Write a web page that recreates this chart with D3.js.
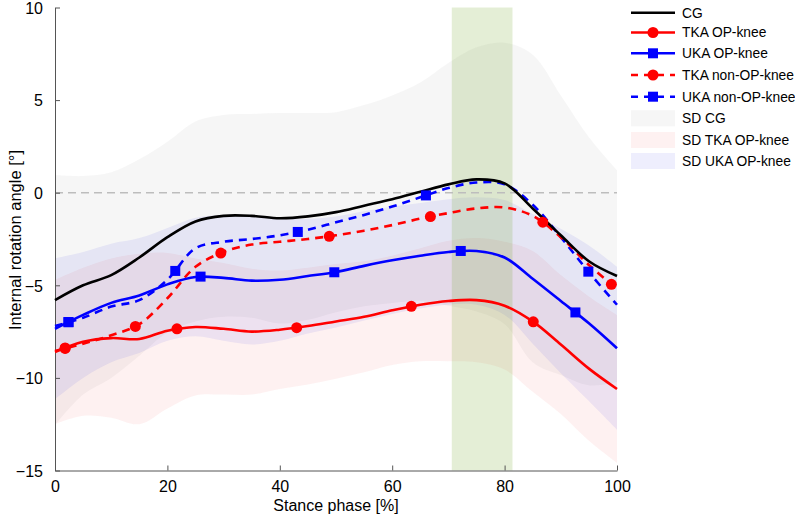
<!DOCTYPE html>
<html>
<head>
<meta charset="utf-8">
<script src="https://cdn.jsdelivr.net/npm/d3@7"></script>
<style>
  html, body { margin: 0; padding: 0; background: #fff; }
  svg { display: block; font-family: "Liberation Sans", Arial, sans-serif; }
</style>
</head>
<body>
<svg id="chart" width="795" height="518"></svg>
<script>
// ---- data ----
const stance = [0,5,10,15,20,25,30,35,40,45,50,55,60,65,70,75,80,85,90,95,100];

const cgMean      = [-5.8,-5.0,-4.45,-3.5,-2.4,-1.55,-1.25,-1.25,-1.38,-1.28,-1.05,-0.7,-0.35,0.05,0.45,0.72,0.5,-0.85,-2.3,-3.7,-4.5];
const tkaOpMean   = [-8.6,-8.05,-7.85,-7.9,-7.45,-7.25,-7.35,-7.5,-7.4,-7.2,-6.95,-6.7,-6.35,-6.05,-5.85,-5.8,-6.1,-6.95,-8.2,-9.5,-10.6];
const ukaOpMean   = [-7.35,-6.6,-5.95,-5.55,-4.95,-4.55,-4.6,-4.75,-4.7,-4.5,-4.28,-3.95,-3.65,-3.4,-3.2,-3.15,-3.5,-4.65,-5.85,-7.05,-8.4];
const tkaNonMean  = [-8.55,-8.15,-7.7,-7.1,-5.7,-4.0,-3.2,-2.8,-2.65,-2.5,-2.3,-2.05,-1.75,-1.4,-1.1,-0.85,-0.8,-1.25,-2.4,-3.9,-5.2];
const ukaNonMean  = [-7.2,-6.75,-6.15,-5.8,-4.7,-3.0,-2.65,-2.5,-2.3,-2.0,-1.6,-1.2,-0.75,-0.25,0.25,0.55,0.45,-0.65,-2.4,-4.3,-6.05];

const cgSD    = [6.75,5.9,5.55,5.3,5.15,5.4,5.45,5.5,5.68,5.58,5.4,5.43,5.6,5.9,6.55,7.13,7.6,8.3,7.55,6.7,5.72];
const tkaOpSD = [3.9,4.0,4.3,4.6,4.2,3.7,3.55,3.4,3.2,3.15,3.1,3.0,2.95,3.05,3.25,3.35,3.45,3.8,3.75,3.9,4.0];
const ukaOpSD = [3.8,3.4,3.2,3.1,3.05,3.2,3.4,3.45,3.3,3.1,3.0,2.95,2.9,2.85,2.85,2.9,3.1,3.5,3.9,4.2,4.4];

const tkaOpMarks  = [1.8, 21.7, 43, 63.4, 85.1];
const ukaOpMarks  = [2.4, 25.9, 49.7, 72.2, 92.6];
const tkaNonMarks = [1.8, 14.3, 29.5, 48.8, 66.8, 86.8, 99];
const ukaNonMarks = [2.4, 21.4, 43.2, 66, 94.9];

const phaseWindow = [70.6, 81.4];
const xTicks = [0,20,40,60,80,100];
const yTicks = [-15,-10,-5,0,5,10];

const legendLabels = ["CG","TKA OP-knee","UKA OP-knee","TKA non-OP-knee","UKA non-OP-knee","SD CG","SD TKA OP-knee","SD UKA OP-knee"];

// ---- layout ----
const svg = d3.select("#chart");
const x = d3.scaleLinear().domain([0,100]).range([55,617]);
const y = d3.scaleLinear().domain([-15,10]).range([470.5,7.5]);
const curve = d3.curveCatmullRom.alpha(0.5);

const RED = "#ff0000", BLUE = "#0000ff";
const GRAY_FILL = "rgba(150,150,150,0.09)";
const PINK_FILL = "rgba(240,60,60,0.07)";
const LAV_FILL  = "rgba(60,60,230,0.085)";

function band(mean, sd, fill) {
  const area = d3.area().curve(curve)
    .x((d,i)=>x(stance[i]))
    .y0((d,i)=>y(mean[i]-sd[i]))
    .y1((d,i)=>y(mean[i]+sd[i]));
  svg.append("path").attr("d", area(mean)).attr("fill", fill).attr("stroke","none");
}
band(cgMean, cgSD, GRAY_FILL);
band(tkaOpMean, tkaOpSD, PINK_FILL);
band(ukaOpMean, ukaOpSD, LAV_FILL);

// phase window
svg.append("rect")
  .attr("x", x(phaseWindow[0])).attr("y", y(10))
  .attr("width", x(phaseWindow[1]) - x(phaseWindow[0]))
  .attr("height", y(-15) - y(10))
  .attr("fill", "rgba(119,172,48,0.2)");

// zero line
svg.append("line")
  .attr("x1", x(0)).attr("x2", x(100)).attr("y1", y(0)).attr("y2", y(0))
  .attr("stroke", "#bdbdbd").attr("stroke-width", 1.5).attr("stroke-dasharray", "8,5");

// axes
const xAxis = d3.axisBottom(x).tickValues(xTicks).tickSizeInner(-5).tickSizeOuter(0).tickPadding(9);
const yAxis = d3.axisLeft(y).tickValues(yTicks).tickSizeInner(-5).tickSizeOuter(0).tickPadding(12);
const gx = svg.append("g").attr("transform", `translate(0,${y(-15)})`).call(xAxis);
const gy = svg.append("g").attr("transform", `translate(${x(0)},0)`).call(yAxis);
[gx, gy].forEach(g => {
  g.select(".domain").attr("stroke", "#555").attr("stroke-width", 1);
  g.selectAll(".tick line").attr("stroke", "#555");
  g.selectAll(".tick text").attr("fill", "#000").style("font-size", "16px")
   .style("font-family", "'Liberation Sans', Arial, sans-serif");
});
gx.selectAll(".tick text").attr("dy", "0.8em");
gy.selectAll(".tick text").attr("dy", "0.36em");

svg.append("text").attr("x", 336).attr("y", 511).attr("text-anchor", "middle")
  .style("font-size", "16px").text("Stance phase [%]");
svg.append("text").attr("transform", "translate(20.5,240) rotate(-90)").attr("text-anchor", "middle")
  .style("font-size", "16.5px").text("Internal rotation angle [°]");

// lines
function line(mean, color, dashed) {
  const gen = d3.line().curve(curve).x((d,i)=>x(stance[i])).y(d=>y(d));
  return svg.append("path").attr("d", gen(mean)).attr("fill","none")
    .attr("stroke", color).attr("stroke-width", 2.6)
    .attr("stroke-dasharray", dashed ? "8,6" : null);
}
function pointAtX(path, xv) {
  const node = path.node();
  const L = node.getTotalLength();
  const target = x(xv);
  let lo = 0, hi = L;
  for (let k = 0; k < 40; k++) {
    const mid = (lo+hi)/2;
    if (node.getPointAtLength(mid).x < target) lo = mid; else hi = mid;
  }
  return node.getPointAtLength((lo+hi)/2);
}
function markers(path, xs, color, shape) {
  xs.forEach(xv => {
    const p = pointAtX(path, xv);
    if (shape === "circle") {
      svg.append("circle").attr("cx", p.x).attr("cy", p.y).attr("r", 5.5).attr("fill", color);
    } else {
      svg.append("rect").attr("x", p.x-5).attr("y", p.y-5).attr("width", 10).attr("height", 10).attr("fill", color);
    }
  });
}
const pUkaNon = line(ukaNonMean, BLUE, true);
const pTkaNon = line(tkaNonMean, RED, true);
const pUkaOp = line(ukaOpMean, BLUE, false);
const pTkaOp = line(tkaOpMean, RED, false);
const pCG = line(cgMean, "#000", false);
markers(pUkaNon, ukaNonMarks, BLUE, "square");
markers(pTkaNon, tkaNonMarks, RED, "circle");
markers(pUkaOp, ukaOpMarks, BLUE, "square");
markers(pTkaOp, tkaOpMarks, RED, "circle");

// legend
const legRows = [12.7, 32.5, 53.3, 75, 96.7, 118.3, 140, 161];
const legStyles = [
  {type:"line", color:"#000"},
  {type:"line", color:RED, marker:"circle"},
  {type:"line", color:BLUE, marker:"square"},
  {type:"line", color:RED, marker:"circle", dashed:true},
  {type:"line", color:BLUE, marker:"square", dashed:true},
  {type:"patch", fill:GRAY_FILL},
  {type:"patch", fill:PINK_FILL},
  {type:"patch", fill:LAV_FILL}
];
const lx0 = 631, lx1 = 675, tx = 682;
legendLabels.forEach((lab, i) => {
  const cy = legRows[i], st = legStyles[i];
  if (st.type === "line") {
    svg.append("line").attr("x1", lx0).attr("x2", lx1).attr("y1", cy).attr("y2", cy)
      .attr("stroke", st.color).attr("stroke-width", 2.6)
      .attr("stroke-dasharray", st.dashed ? "7,6" : null);
    const mx = (lx0+lx1)/2;
    if (st.marker === "circle") svg.append("circle").attr("cx", mx).attr("cy", cy).attr("r", 5.5).attr("fill", st.color);
    if (st.marker === "square") svg.append("rect").attr("x", mx-5).attr("y", cy-5).attr("width", 10).attr("height", 10).attr("fill", st.color);
  } else {
    svg.append("rect").attr("x", lx0).attr("y", cy-8).attr("width", lx1-lx0).attr("height", 16).attr("fill", st.fill);
  }
  svg.append("text").attr("x", tx).attr("y", cy).attr("dy", "0.36em")
    .style("font-size", "13.8px").attr("fill", "#000").text(lab);
});
</script>
</body>
</html>
